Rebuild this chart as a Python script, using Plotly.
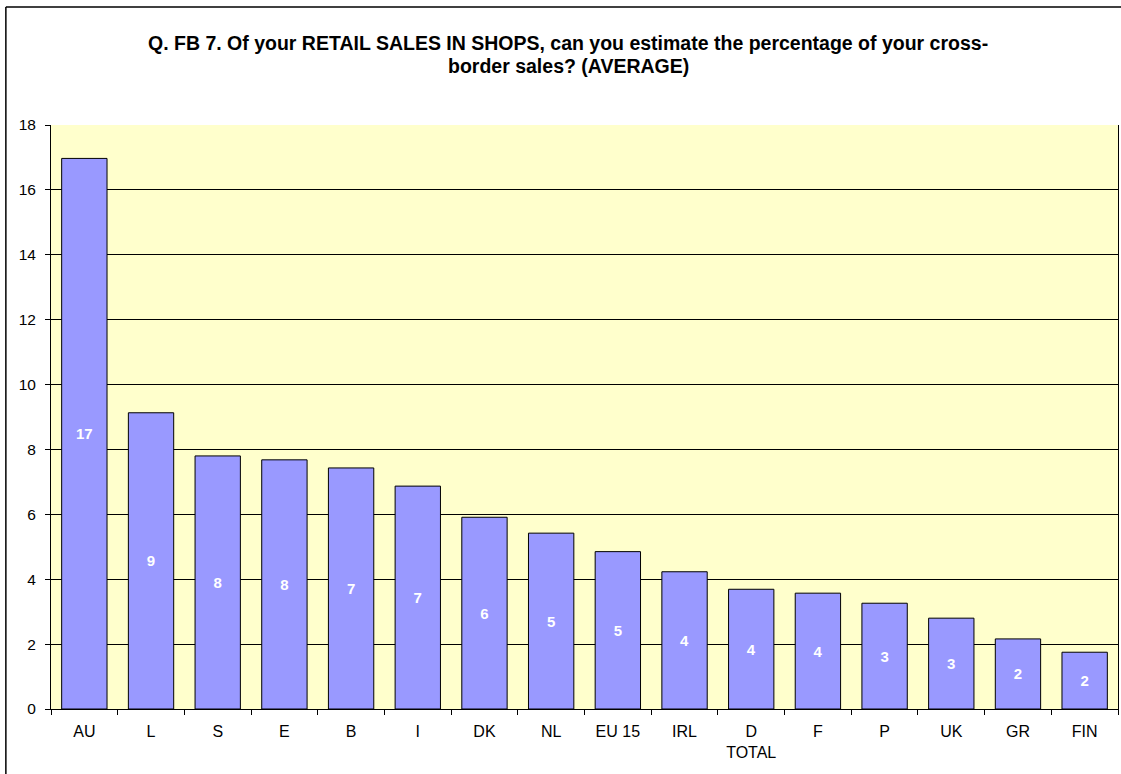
import plotly.graph_objects as go

# categories and average values
countries = ["AU", "L", "S", "E", "B", "I", "DK", "NL", "EU 15", "IRL",
             "D<br>TOTAL", "F", "P", "UK", "GR", "FIN"]
averages = [16.97, 9.13, 7.80, 7.68, 7.43, 6.87, 5.91, 5.42, 4.85, 4.23,
            3.69, 3.57, 3.26, 2.80, 2.16, 1.75]
y_ticks = [0, 2, 4, 6, 8, 10, 12, 14, 16, 18]

title_lines = ["Q. FB 7. Of your RETAIL SALES IN SHOPS, can you estimate the percentage of your cross-",
               "border sales? (AVERAGE)"]

fig = go.Figure(go.Bar(
    x=countries, y=averages,
    marker=dict(color="#9999FF", line=dict(color="black", width=1)),
    texttemplate="%{y:.0f}", textposition="inside", insidetextanchor="middle",
    textfont=dict(color="white", size=15, family="Liberation Sans", weight="bold"),
    textangle=0, hoverinfo="x+y",
))

fig.update_layout(
    width=1121, height=774,
    margin=dict(l=51, r=3, t=125, b=65),
    paper_bgcolor="white", plot_bgcolor="#FFFFCC",
    bargap=0.32, showlegend=False,
    font=dict(family="Liberation Sans", size=15.5, color="black"),
)
fig.update_xaxes(showline=True, linecolor="black", linewidth=1,
                 ticks="outside", tickson="boundaries", ticklen=5, tickcolor="black",
                 ticklabelstandoff=8, tickfont=dict(size=16), showgrid=False)
fig.update_yaxes(range=[0, 18], tickvals=y_ticks, showline=True, linecolor="black",
                 linewidth=1, mirror=True, ticks="outside", ticklen=5, tickcolor="black",
                 ticklabelstandoff=6, showgrid=True, gridcolor="black", gridwidth=1,
                 zeroline=False)

# two-line title, set as separate lines to match the tighter line spacing
for line, ypos in zip(title_lines, [1.1404, 1.1010]):
    fig.add_annotation(text=line, xref="paper", yref="paper", x=0.485, y=ypos,
                       xanchor="center", yanchor="middle", showarrow=False,
                       font=dict(size=19.5, family="Liberation Sans", weight="bold"))

# outer chart frame (left and top edges)
fig.add_shape(type="line", xref="paper", yref="paper", x0=-0.0423, x1=-0.0423,
              y0=1.202, y1=-0.2, line=dict(color="black", width=1.5))
fig.add_shape(type="line", xref="paper", yref="paper", x0=-0.0423, x1=1.1,
              y0=1.202, y1=1.202, line=dict(color="black", width=1.5))

fig.write_html("out.html", config={"displayModeBar": False},
               post_script="document.body.style.margin='0';document.body.style.overflow='hidden';")
